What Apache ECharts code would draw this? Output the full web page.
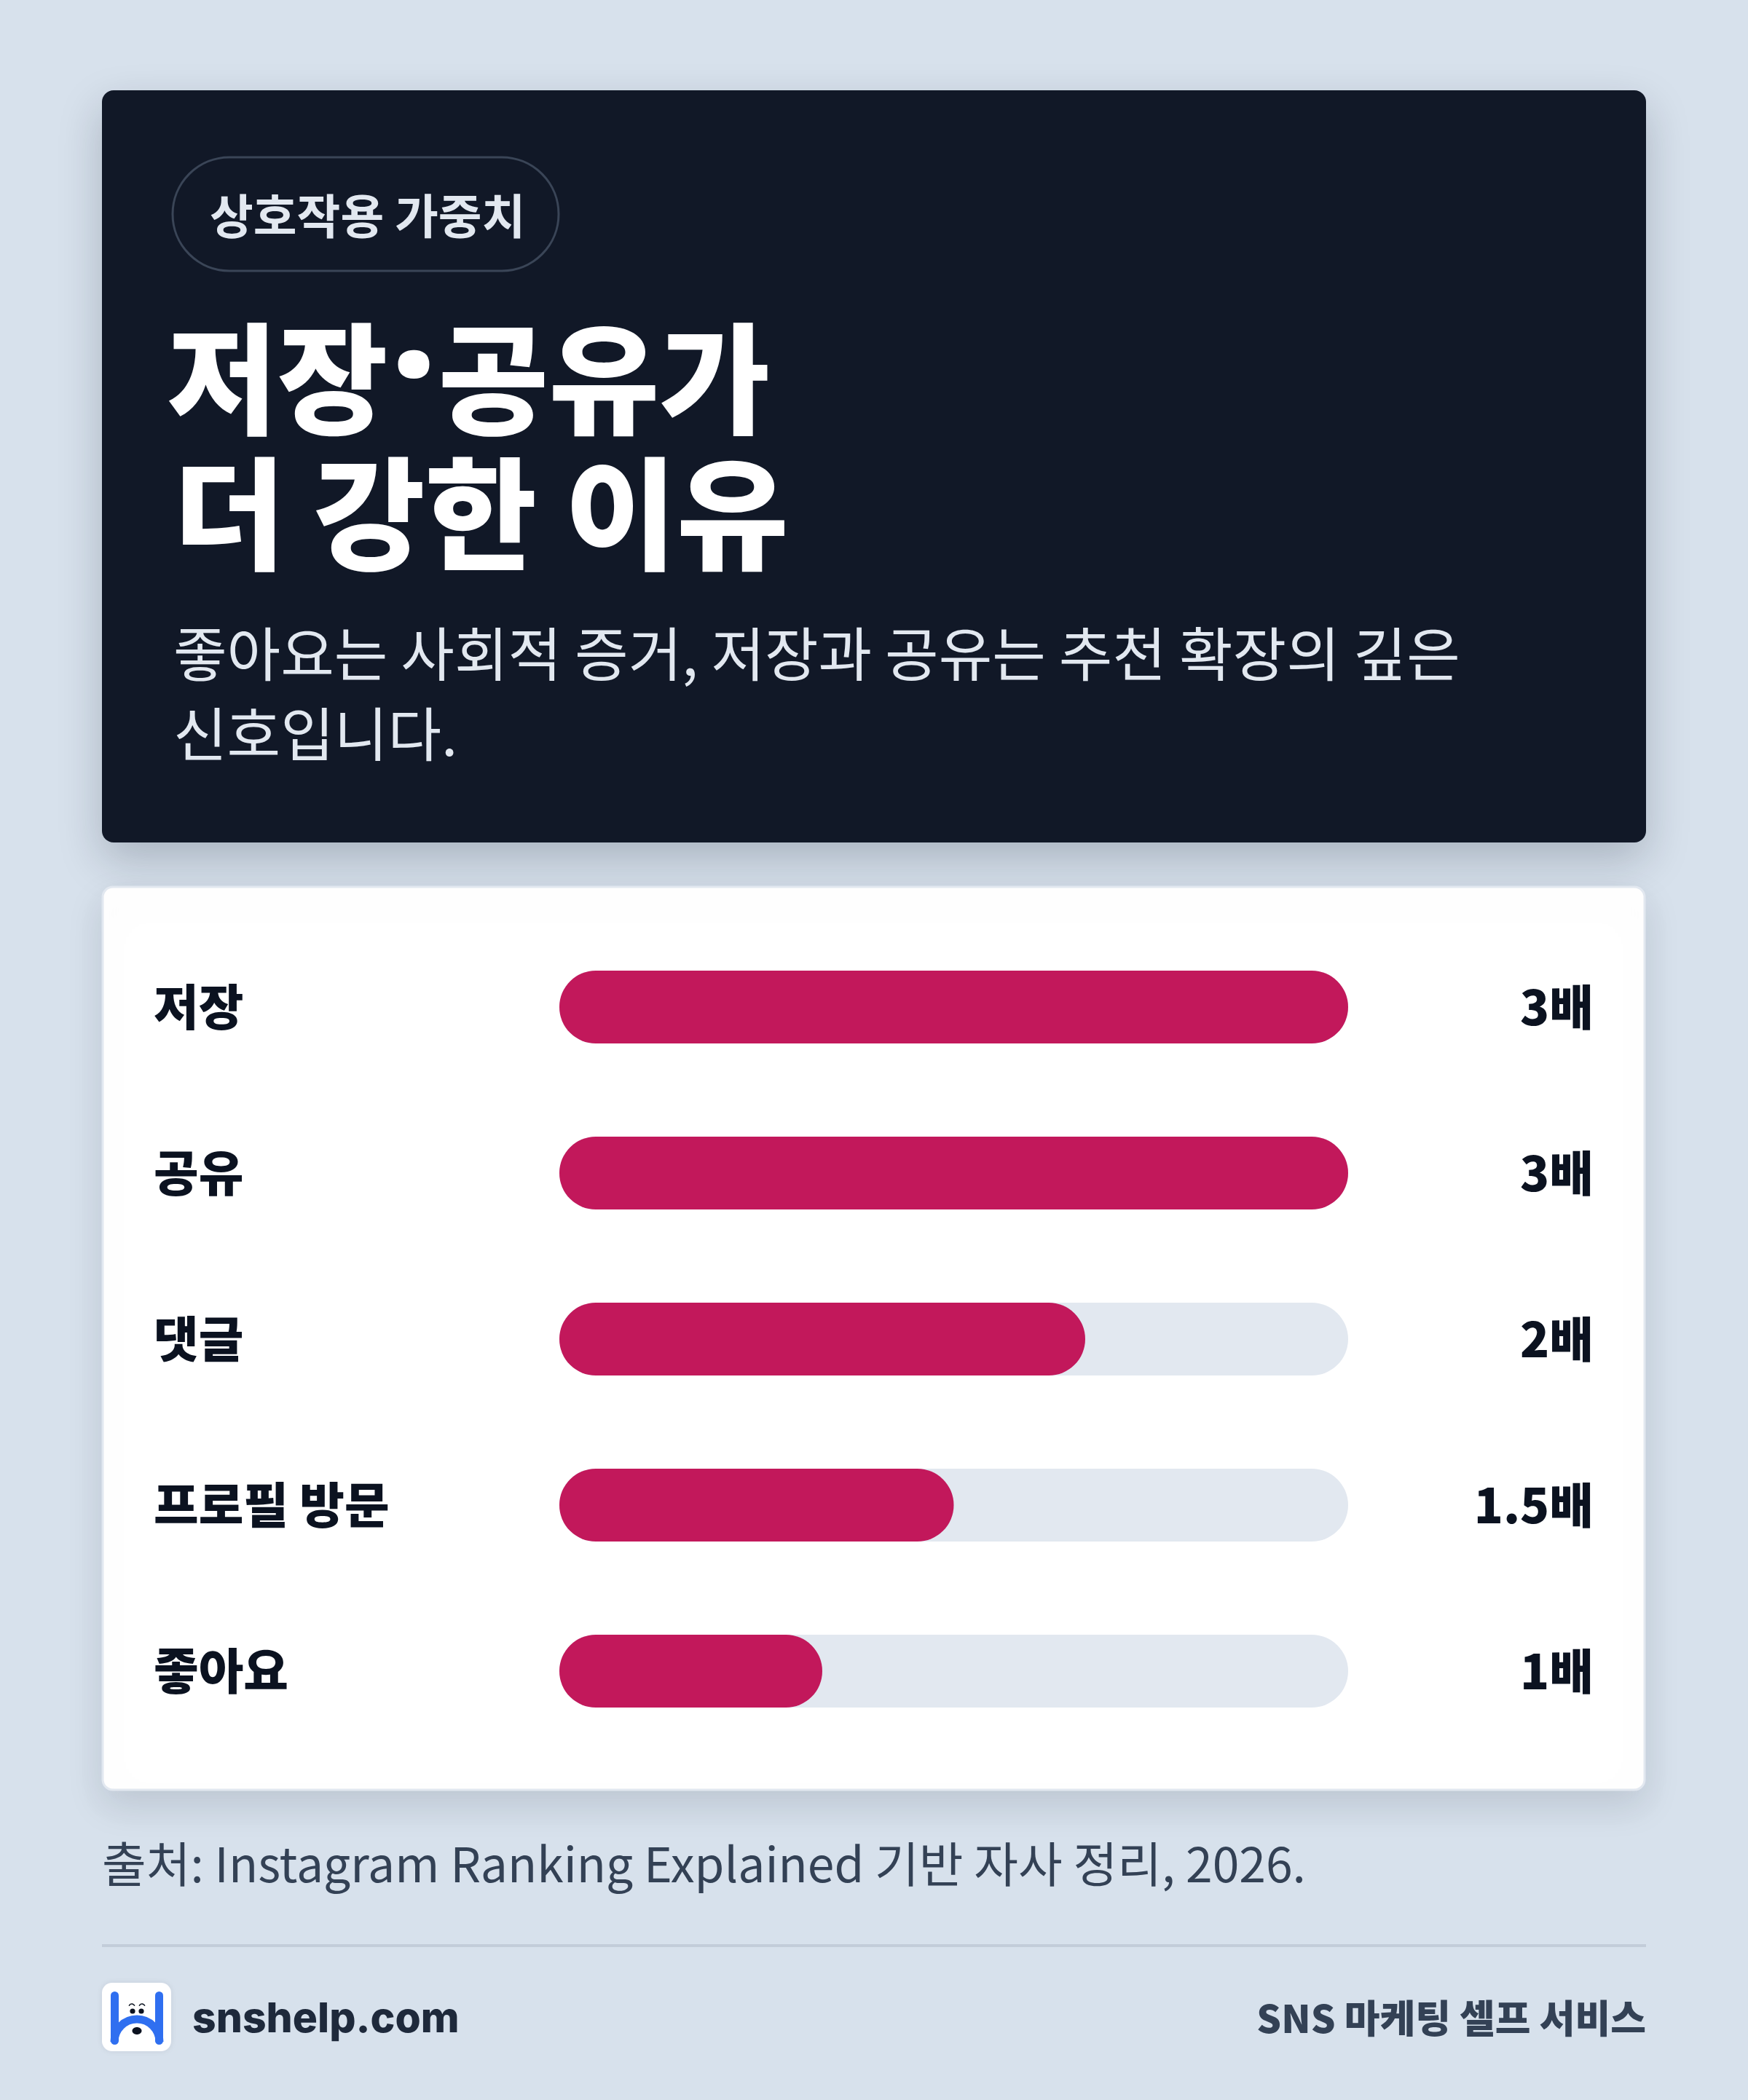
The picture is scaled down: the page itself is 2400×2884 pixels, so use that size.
<!DOCTYPE html>
<html><head><meta charset="utf-8">
<style>html,body{margin:0;padding:0;background:#d7e1ec;}#c{width:2400px;height:2884px;}</style>
<script src="https://cdn.jsdelivr.net/npm/echarts@6/dist/echarts.min.js"></script>
</head><body><div id="c"></div>
<script>
const categories = ['저장', '공유', '댓글', '프로필 방문', '좋아요'];
const values = [3, 3, 2, 1.5, 1];
const unit = '배';
const axisMax = 3;
const badgeText = '상호작용 가중치';
const titleParts = ['저장', '·', '공유가'];
const titleLine2 = '더 강한 이유';
const subtitleLines = ['좋아요는 사회적 증거, 저장과 공유는 추천 확장의 깊은', '신호입니다.'];
const sourceText = '출처: Instagram Ranking Explained 기반 자사 정리, 2026.';
const brandText = 'snshelp.com';
const taglineText = 'SNS 마케팅 셀프 서비스';

const KR = "'Noto Sans CJK KR', 'Noto Sans', sans-serif";
const chart = echarts.init(document.getElementById('c'), null, {renderer: 'canvas', width: 2400, height: 2884});

const titleFont = `900 165px ${KR}`;
const graphics = [
  {type: 'rect', z: 0, shape: {x: 140, y: 124, width: 2120, height: 1033, r: 16},
   style: {fill: '#111827', shadowBlur: 60, shadowOffsetY: 24, shadowColor: 'rgba(15,23,42,0.22)'}},
  {type: 'rect', z: 1, shape: {x: 237, y: 216, width: 530, height: 156, r: 78},
   style: {fill: '#111827', stroke: '#3a4557', lineWidth: 3}},
  {type: 'text', z: 2, x: 288, y: 296, style: {text: badgeText, font: `700 65px ${KR}`, fill: '#e2e8f0', textVerticalAlign: 'middle'}},
  {type: 'text', z: 2, x: 229, y: 520, style: {text: titleParts[0], font: titleFont, fill: '#ffffff', textVerticalAlign: 'middle'}},
  {type: 'text', z: 2, x: 568, y: 514, style: {text: titleParts[1], font: `900 210px 'Noto Sans', sans-serif`, fill: '#ffffff', textAlign: 'center', textVerticalAlign: 'middle'}},
  {type: 'text', z: 2, x: 1057, y: 520, style: {text: titleParts[2], font: titleFont, fill: '#ffffff', textAlign: 'right', textVerticalAlign: 'middle'}},
  {type: 'text', z: 2, x: 238, y: 706, style: {text: titleLine2, font: `900 167px ${KR}`, fill: '#ffffff', textVerticalAlign: 'middle'}},
  {type: 'text', z: 2, x: 238, y: 898, style: {text: subtitleLines[0], font: `400 80px ${KR}`, fill: '#e2e8f0', textVerticalAlign: 'middle'}},
  {type: 'text', z: 2, x: 238, y: 1008, style: {text: subtitleLines[1], font: `400 80px ${KR}`, fill: '#e2e8f0', textVerticalAlign: 'middle'}},
  {type: 'rect', z: 0, shape: {x: 141, y: 1218, width: 2117, height: 1240, r: 14},
   style: {fill: '#ffffff', stroke: '#e2e8f0', lineWidth: 3, shadowBlur: 50, shadowOffsetY: 20, shadowColor: 'rgba(15,23,42,0.13)'}},
  {type: 'text', z: 2, x: 140, y: 2560, style: {text: sourceText, font: `400 66px ${KR}`, fill: '#334155', textVerticalAlign: 'middle'}},
  {type: 'rect', z: 1, shape: {x: 140, y: 2670, width: 2120, height: 4}, style: {fill: '#c3cdd9'}},
  // logo
  {type: 'rect', z: 1, shape: {x: 140, y: 2723, width: 95, height: 94, r: 14}, style: {fill: '#ffffff', shadowBlur: 8, shadowColor: 'rgba(15,23,42,0.08)'}},
  {type: 'rect', z: 2, shape: {x: 152, y: 2735, width: 11, height: 73, r: 5.5}, style: {fill: '#2f6ff0'}},
  {type: 'rect', z: 2, shape: {x: 213, y: 2735, width: 11, height: 73, r: 5.5}, style: {fill: '#2f6ff0'}},
  {type: 'arc', z: 2, shape: {cx: 188, cy: 2804, r: 31, startAngle: Math.PI, endAngle: Math.PI * 2, clockwise: true},
   style: {stroke: '#2f6ff0', lineWidth: 11, fill: null}},
  {type: 'circle', z: 3, shape: {cx: 182, cy: 2762, r: 3.6}, style: {fill: '#0b1220'}},
  {type: 'circle', z: 3, shape: {cx: 194, cy: 2762, r: 3.6}, style: {fill: '#0b1220'}},
  {type: 'arc', z: 3, shape: {cx: 181, cy: 2756, r: 4, startAngle: Math.PI * 1.1, endAngle: Math.PI * 1.9, clockwise: true}, style: {stroke: '#0b1220', lineWidth: 1.6, fill: null}},
  {type: 'arc', z: 3, shape: {cx: 195, cy: 2756, r: 4, startAngle: Math.PI * 1.1, endAngle: Math.PI * 1.9, clockwise: true}, style: {stroke: '#0b1220', lineWidth: 1.6, fill: null}},
  {type: 'ellipse', z: 3, shape: {cx: 188, cy: 2789, rx: 6.5, ry: 5}, style: {fill: '#0b1220'}},
  {type: 'text', z: 2, x: 264, y: 2774, style: {text: brandText, font: `800 57px Inter, ${KR}`, fill: '#1e293b', textVerticalAlign: 'middle'}},
  {type: 'text', z: 2, x: 2260, y: 2772, style: {text: taglineText, font: `800 53px ${KR}`, fill: '#334155', textAlign: 'right', textVerticalAlign: 'middle'}}
];

const option = {
  backgroundColor: '#d7e1ec',
  animation: false,
  graphic: {elements: graphics},
  grid: {left: 768, right: 549, top: 1269, height: 1140, containLabel: false},
  xAxis: {type: 'value', min: 0, max: axisMax, show: false},
  yAxis: [
    {type: 'category', data: categories, inverse: true,
     axisLine: {show: false}, axisTick: {show: false}, splitLine: {show: false},
     axisLabel: {align: 'left', margin: 557, fontSize: 67, fontWeight: 900, fontFamily: KR, color: '#0b1220'}},
    {type: 'category', data: categories, inverse: true, position: 'right',
     axisLine: {show: false}, axisTick: {show: false}, splitLine: {show: false},
     axisLabel: {align: 'right', margin: 337, fontSize: 66, fontWeight: 900, fontFamily: KR, color: '#0b1220',
       formatter: (v, i) => values[i] + unit}}
  ],
  series: [{
    type: 'bar', yAxisIndex: 0, data: values, barWidth: 100, z: 5,
    itemStyle: {color: '#c2185b', borderRadius: 50},
    showBackground: true,
    backgroundStyle: {color: '#e2e8f0', borderRadius: 50}
  }]
};
chart.setOption(option);
</script></body></html>
